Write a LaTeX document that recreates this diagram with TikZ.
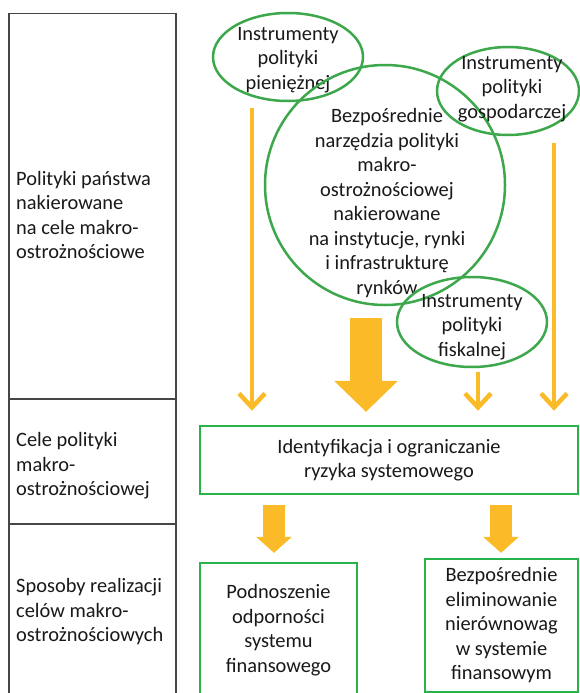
\documentclass[tikz,border=0pt]{standalone}
\usepackage{fontspec}
\setmainfont{Carlito}
\usetikzlibrary{shapes.geometric,arrows.meta}
\definecolor{ellgreen}{RGB}{60,168,75}
\definecolor{boxgreen}{RGB}{40,180,75}
\definecolor{arrowor}{RGB}{251,186,40}
\definecolor{tablegray}{RGB}{70,70,70}
\definecolor{txtcol}{RGB}{25,25,25}
\begin{document}
\begin{tikzpicture}[x=1pt,y=-1pt,
  every node/.style={font=\fontsize{20.4}{24.5}\selectfont, text=txtcol},
  ell/.style={draw=ellgreen, line width=2.5pt, ellipse, inner sep=0pt},
  txt/.style={align=center, inner sep=0pt},
  rowcell/.style={draw=tablegray, line width=1.5pt, rectangle, anchor=north west, inner sep=0pt},
  rowtxt/.style={align=left, anchor=west, inner sep=0pt},
  gbox/.style={draw=boxgreen, line width=2.5pt, rectangle, inner sep=0pt, align=center},
  thinarr/.style={draw=arrowor, line width=4.5pt, -{Straight Barb[length=14pt,width=26pt]}},
  bigarr/.style={draw=arrowor, line width=32pt, -{Triangle[length=31pt,width=64pt,line width=0pt]}},
  smallarr/.style={draw=arrowor, line width=22pt, -{Triangle[length=16pt,width=36pt,line width=0pt]}}
]
\fill[white] (0,0) rectangle (580,693);
\useasboundingbox (0,0) rectangle (580,693);

% table on the left
\node[rowcell, minimum width=167pt, minimum height=385pt] (r1) at (8,13) {};
\node[rowcell, minimum width=167pt, minimum height=125pt] (r2) at (8,398) {};
\node[rowcell, minimum width=167pt, minimum height=185pt] (r3) at (8,523) {};
\node[rowtxt] (t1) at (16,215) {Polityki państwa\\nakierowane\\na cele makro-\\ostrożnościowe};
\node[rowtxt] (t2) at (16,466) {Cele polityki\\makro-\\ostrożnościowej};
\node[rowtxt] (t3) at (16,612) {Sposoby realizacji\\celów makro-\\ostrożnościowych};

% ellipses
\node[ell, minimum width=150pt, minimum height=88pt] (pien) at (288,57) {};
\node[txt] (pient) at (288,60) {Instrumenty\\polityki\\pieniężnej};
\node[ell, minimum width=240pt, minimum height=240pt] (direct) at (385,185) {};
\node[txt] (directt) at (387,203) {Bezpośrednie\\narzędzia polityki\\makro-\\ostrożnościowej\\nakierowane\\na instytucje, rynki\\i infrastrukturę\\rynków};
\node[ell, minimum width=142pt, minimum height=88pt] (gosp) at (508,91) {};
\node[txt] (gospt) at (512,89) {Instrumenty\\polityki\\gospodarczej};
\node[ell, minimum width=150pt, minimum height=90pt] (fisk) at (472,322) {};
\node[txt] (fiskt) at (472,327) {Instrumenty\\polityki\\fiskalnej};

% boxes
\node[gbox, minimum width=378pt, minimum height=68pt] (goal) at (389,460) {Identyfikacja i ograniczanie\\ryzyka systemowego};
\node[gbox, minimum width=157pt, minimum height=134pt] (resil) at (278.5,630) {Podnoszenie\\odporności\\systemu\\finansowego};
\node[gbox, minimum width=153pt, minimum height=133pt] (elim) at (501.5,625.5) {Bezpośrednie\\eliminowanie\\nierównowag\\w systemie\\finansowym};

% arrow start points
\coordinate (a1) at (252,108);
\coordinate (a2) at (554,143);
\coordinate (a3) at (478,372);
\coordinate (a4) at (366,318);
\coordinate (b1) at (274,494);
\coordinate (b2) at (501,494);

\draw[thinarr, shorten >=14pt] (a1) -- (a1 |- goal.north);
\draw[thinarr, shorten >=14pt] (a2) -- (a2 |- goal.north);
\draw[thinarr, shorten >=14pt] (a3) -- (a3 |- goal.north);
\draw[bigarr, shorten >=13pt] (a4) -- (a4 |- goal.north);
\draw[smallarr, shorten <=11pt, shorten >=9pt] (b1) -- (b1 |- resil.north);
\draw[smallarr, shorten <=11pt, shorten >=5pt] (b2) -- (b2 |- elim.north);
\end{tikzpicture}
\end{document}
